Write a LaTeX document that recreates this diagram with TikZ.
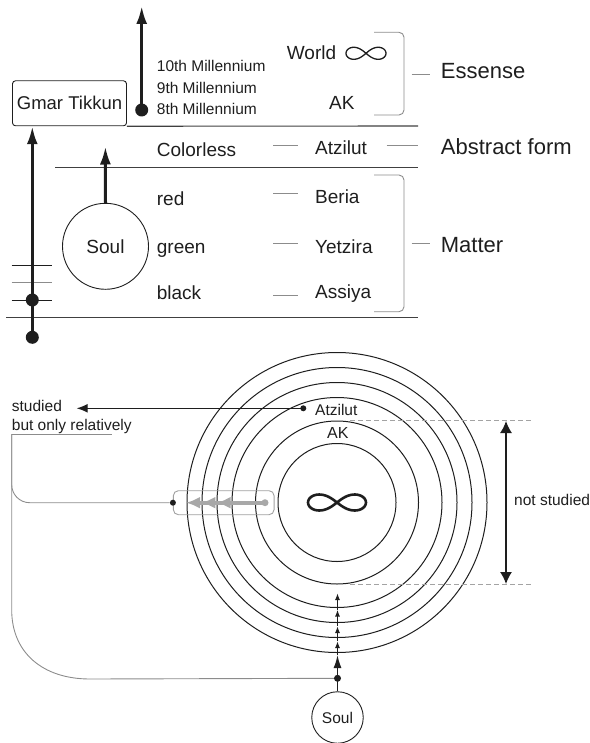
\documentclass[tikz,border=0pt]{standalone}
\usepackage{fontspec}
\setmainfont{Liberation Sans}
\usetikzlibrary{arrows.meta,positioning,calc}
\definecolor{ink}{HTML}{1E1E1E}
\definecolor{rulegray}{HTML}{8C8C8C}
\definecolor{boxgray}{HTML}{A0A0A0}
\definecolor{flowgray}{HTML}{A8A8A8}
\definecolor{dashgray}{HTML}{A3A3A3}

\begin{document}
\begin{tikzpicture}[x=1pt, y=-1pt,
  every node/.style={inner sep=0pt, text=ink},
  big/.style={font=\fontsize{22}{26}\selectfont, anchor=base west},
  mid/.style={font=\fontsize{19}{22}\selectfont, anchor=base west},
  small/.style={font=\fontsize{15.5}{18}\selectfont, anchor=base west},
  fat/.style={ink, line width=3pt, -{Latex[length=18pt,width=11pt]}},
  tick/.style={rulegray, line width=0.8pt},
  sep/.style={ink!85, line width=1.1pt},
  link/.style={rulegray, line width=0.9pt},
  dot/.style={circle, fill=ink, minimum size=#1, inner sep=0pt},
  dot/.default=6pt,
]
\useasboundingbox (0,0) rectangle (589,743);

% ---------- upper scheme ----------

% Gmar Tikkun and separators
\node[draw=ink, line width=0.9pt, rounded corners=3pt, minimum width=114pt, minimum height=45pt,
  font=\fontsize{18.5}{22}\selectfont] (gmar) at (69.5,103.3) {Gmar Tikkun};
\draw[sep] (gmar.south east) -- (418,126);
\draw[sep] (55,167.5) -- (418,167.5);
\draw[sep] (6,317.7) -- (418,317.7);

% Millennia
\node[small] (m10) at (156.7,71.7) {10th Millennium};
\node[small] (m9) at (156.7,93.3) {9th Millennium};
\node[small] (m8) at (156.7,115) {8th Millennium};
\node[dot=13pt] (mdot) at (141.7,110) {};
\coordinate (mtop) at (141.7,6);
\draw[fat] (mdot.center) -- (mtop);

% Essense
\node[mid] (world) at (286.7,59.3) {World};
\draw[ink, line width=1.3pt, shift={(366,53.3)}] plot[domain=0:355, samples=72, smooth cycle, variable=\t]
  ({20*cos(\t)/(1+sin(\t)^2)}, {0.85*20*sin(\t)*cos(\t)/(1+sin(\t)^2)});
\node[mid] (akA) at (329,110) {AK};
\draw[rulegray, line width=0.9pt, rounded corners=5pt] (374,32.3) -- (404,32.3) -- (404,115) -- (374,115);
\draw[tick] (411.7,74) -- (430,74);
\node[big] (essense) at (440.7,78.3) {Essense};

% Abstract form
\node[mid] (colorless) at (156.7,156.7) {Colorless};
\node[mid] (atzA) at (315,155) {Atzilut};
\node[big] (abstract) at (440.7,155) {Abstract form};
\draw[tick] (273,145.3) -- (298,145.3);
\draw[tick] (386.7,145.3) -- (418,145.3);

% Matter
\node[mid] (red) at (156.7,205) {red};
\node[mid] (green) at (156.7,253) {green};
\node[mid] (black) at (156.7,299) {black};
\node[mid] (beria) at (315,204) {Beria};
\node[mid] (yetzira) at (315,253) {Yetzira};
\node[mid] (assiya) at (315,298) {Assiya};
\foreach \y in {193.3,243.3,295}
  \draw[tick] (273,\y) -- (298,\y);
\draw[rulegray, line width=0.9pt, rounded corners=5pt] (374,175) -- (404,175) -- (404,311.7) -- (374,311.7);
\draw[tick] (411.7,243.3) -- (430,243.3);
\node[big] (matter) at (440.7,252.7) {Matter};

% Soul
\node[circle, draw=ink, line width=0.9pt, minimum size=86pt, font=\fontsize{19}{22}\selectfont] (soulA) at (105.5,246.3) {Soul};
\coordinate (soultop) at (105.4,146.5);
\draw[fat] (soulA.north) -- (soultop);

% Gmar Tikkun path
\draw[ink, line width=1pt] (11.7,265.3) -- (52.3,265.3);
\draw[rulegray, line width=1pt] (11.7,282.3) -- (52.3,282.3);
\draw[ink, line width=1pt] (11.7,300) -- (52.3,300);
\node[dot=13pt] (gdotA) at (32.3,300) {};
\node[dot=13pt] (gdotB) at (32.3,337.3) {};
\draw[fat] (gdotB.center) -- (gdotB |- gmar.south);

% ---------- lower scheme ----------

% Worlds
\coordinate (ctr) at (337,502.5);
\foreach \r in {59,81.5,105,120,135,150}
  \draw[ink, line width=1pt] (ctr) circle[radius=\r pt];
\draw[ink, line width=2.6pt, shift={(337,502.5)}] plot[domain=0:355, samples=72, smooth cycle, variable=\t]
  ({29*cos(\t)/(1+sin(\t)^2)}, {0.78*29*sin(\t)*cos(\t)/(1+sin(\t)^2)});
\node[small] (atzB) at (315,415) {Atzilut};
\node[small, font=\fontsize{16}{18}\selectfont] (akB) at (327,438) {AK};

% Studied
\node[small] (studied) at (11.7,411.7) {studied};
\node[small] (relative) at (11.7,430.7) {but only relatively};
\node[dot] (adot) at (303.3,408.3) {};
\coordinate (sttip) at (76.7,408.3);
\draw[ink, line width=1.2pt, -{Latex[length=11pt,width=9pt]}] (adot.center) -- (sttip);
\coordinate (ulA) at (11.7,434);
\coordinate (ulB) at (112.3,434);
\draw[link] (ulA) -- (ulB);

% Gray path box
\node[draw=boxgray, line width=0.9pt, rounded corners=5pt, minimum width=100.7pt, minimum height=24pt] (pbox) at (223.7,502.7) {};
\node[circle, fill=flowgray, minimum size=7pt] (pdot) at (265,502.7) {};
\coordinate (ptip) at (186,502.7);
\draw[flowgray, line width=4pt, -{Latex[length=14pt,width=12pt,sep=1.3pt] Latex[length=14pt,width=12pt,sep=1.3pt] Latex[length=14pt,width=12pt]}] (pdot.center) -- (ptip);
\node[dot] (bdot) at (pbox.west) {};
\draw[link, rounded corners=18pt] (ulA) |- (bdot);

% Not studied
\draw[dashgray, line width=0.9pt, dash pattern=on 5pt off 3pt] (350,420.7) -- (532,420.7);
\draw[dashgray, line width=0.9pt, dash pattern=on 5pt off 3pt] (350,584) -- (532,584);
\coordinate (nsA) at (506,421);
\coordinate (nsB) at (506,584);
\draw[ink, line width=1.4pt, {Latex[length=12pt,width=12pt]}-{Latex[length=12pt,width=12pt]}] (nsA) -- (nsB);
\node[small] (notst) at (514,505) {not studied};

% Soul below
\node[circle, draw=ink, line width=0.9pt, minimum size=51.5pt, font=\fontsize{15.5}{18}\selectfont] (soulB) at (337.5,717.5) {Soul};
\node[dot=7pt] (sdot) at (337.5,678.3) {};
\foreach \i/\y in {1/655,2/641,3/626,4/609.5,5/593}
  \coordinate (up\i) at (337.5,\y);
\draw[ink, line width=1.5pt] (soulB.north) -- (sdot.center);
\draw[ink, line width=1.5pt, -{Latex[length=13pt,width=8pt]}] (sdot.center) -- (up1);
\foreach \i/\j in {1/2,2/3,3/4,4/5}
  \draw[ink, line width=1.5pt, -{Latex[length=7pt,width=5pt]}] (up\i) -- (up\j);
\coordinate (bend) at (90,679);
\draw[link] (ulA) -- (11.7,610) .. controls (11.7,652) and (42,679) .. (bend) -- (sdot);

\end{tikzpicture}
\end{document}
